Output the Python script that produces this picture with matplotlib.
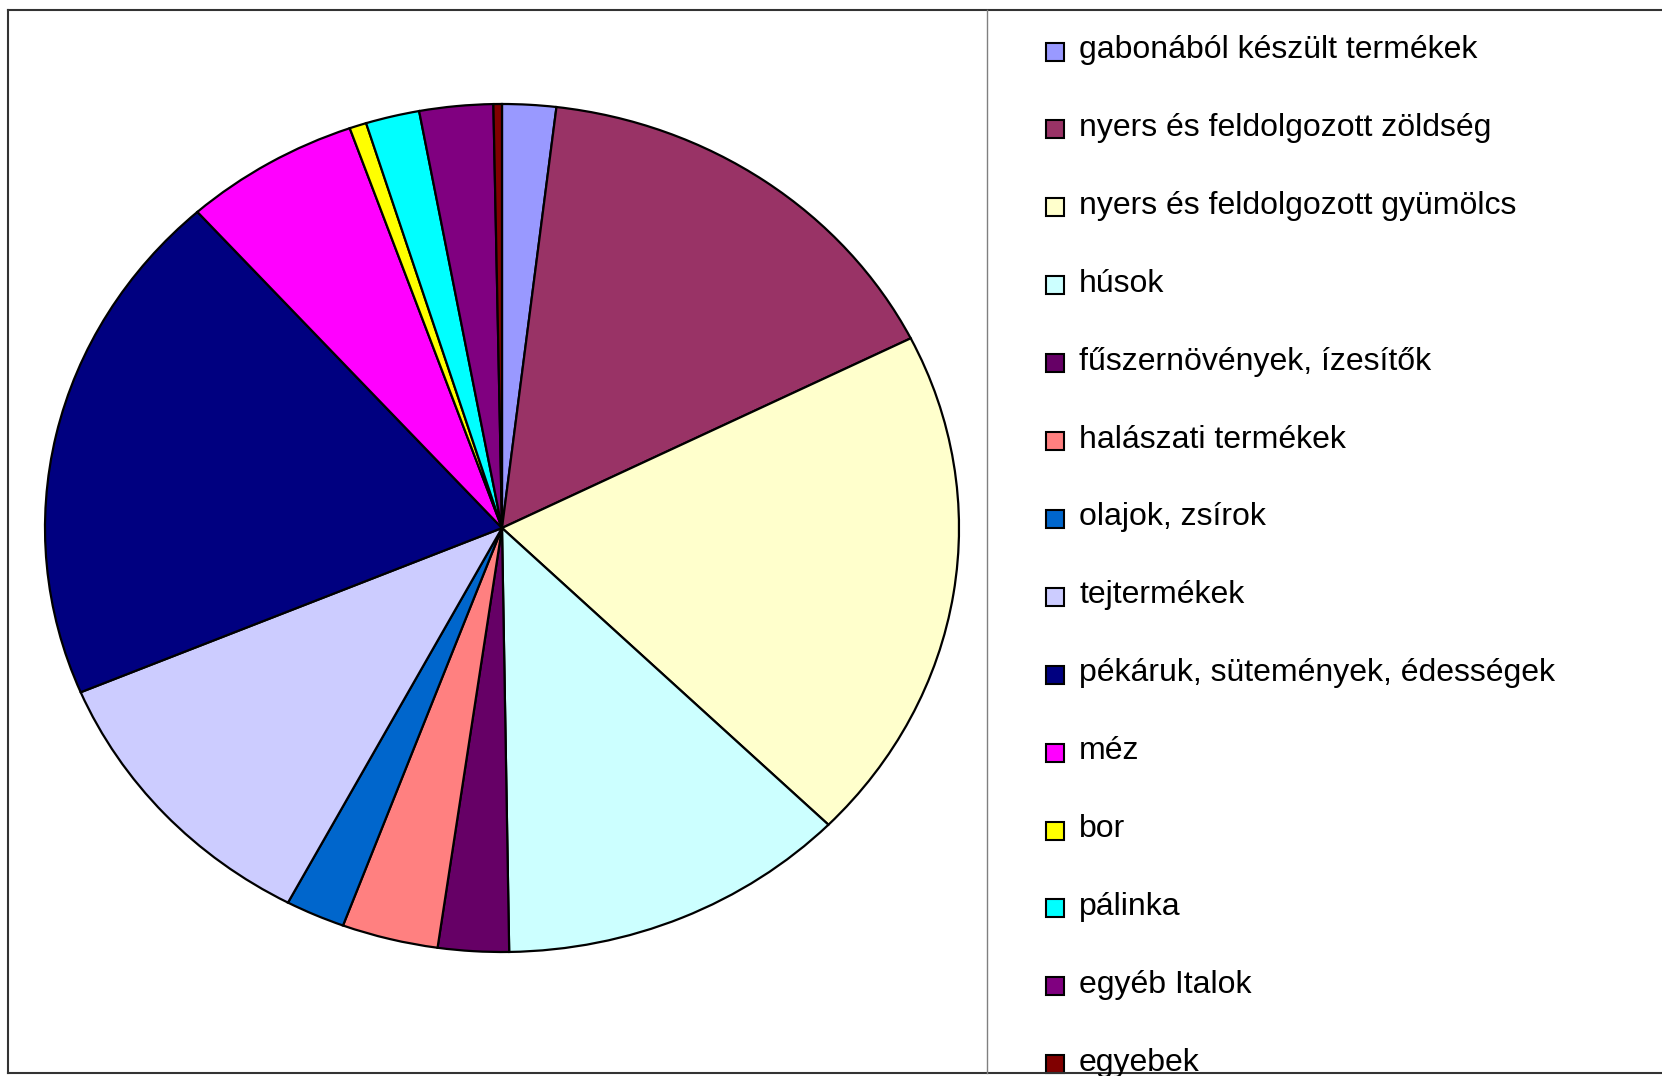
import matplotlib
matplotlib.use("Agg")
import matplotlib.pyplot as plt
from matplotlib.patches import Rectangle
from matplotlib.lines import Line2D

# Share of each product group (in percent)
categories = [
    "gabonából készült termékek",
    "nyers és feldolgozott zöldség",
    "nyers és feldolgozott gyümölcs",
    "húsok",
    "fűszernövények, ízesítők",
    "halászati termékek",
    "olajok, zsírok",
    "tejtermékek",
    "pékáruk, sütemények, édességek",
    "méz",
    "bor",
    "pálinka",
    "egyéb Italok",
    "egyebek",
]
shares = [1.9, 15.7, 19.7, 12.4, 2.5, 3.4, 2.1, 10.9, 19.7, 6.2, 0.6, 1.9, 2.6, 0.3]
colors = ["#9999FF", "#993366", "#FFFFCC", "#CCFFFF", "#660066", "#FF8080",
          "#0066CC", "#CCCCFF", "#000080", "#FF00FF", "#FFFF00", "#00FFFF",
          "#800080", "#800000"]

W, H = 1662, 1076
fig = plt.figure(figsize=(W / 100, H / 100), dpi=100)

def fx(px):
    return px / W

def fy(py):
    return 1 - py / H

# pie is stretched into an ellipse, like the original
ax = fig.add_axes([fx(45), fy(952), fx(959) - fx(45), fy(104) - fy(952)])
ax.pie(shares, colors=colors, startangle=90, counterclock=False,
       wedgeprops=dict(edgecolor="black", linewidth=1.6))
ax.set_aspect("auto")
ax.set_xlim(-1.0, 1.0)
ax.set_ylim(-1.0, 1.0)
ax.axis("off")

# chart frame and legend divider
fig.add_artist(Line2D([fx(8), fx(8)], [fy(10), fy(1073)], color="#333333", lw=1.5))
fig.add_artist(Line2D([fx(8), 1], [fy(10), fy(10)], color="#333333", lw=1.5))
fig.add_artist(Line2D([fx(8), 1], [fy(1073), fy(1073)], color="#333333", lw=1.5))
fig.add_artist(Line2D([fx(987), fx(987)], [fy(10), fy(1073)], color="#808080", lw=1.0))

# legend drawn by hand so the rows can run off the bottom like the original
row0, step = 51.5, 77.9
for i, (lab, col) in enumerate(zip(categories, colors)):
    yc = row0 + i * step
    fig.add_artist(Rectangle((fx(1046), fy(yc + 9)), fx(18), 18 / H,
                             facecolor=col, edgecolor="black", lw=1.5))
    fig.text(fx(1079), fy(yc + 6.5), lab, fontsize=23, family="Liberation Sans",
             va="baseline", ha="left")

fig.savefig("out.png", dpi=100)
plt.close("all")
